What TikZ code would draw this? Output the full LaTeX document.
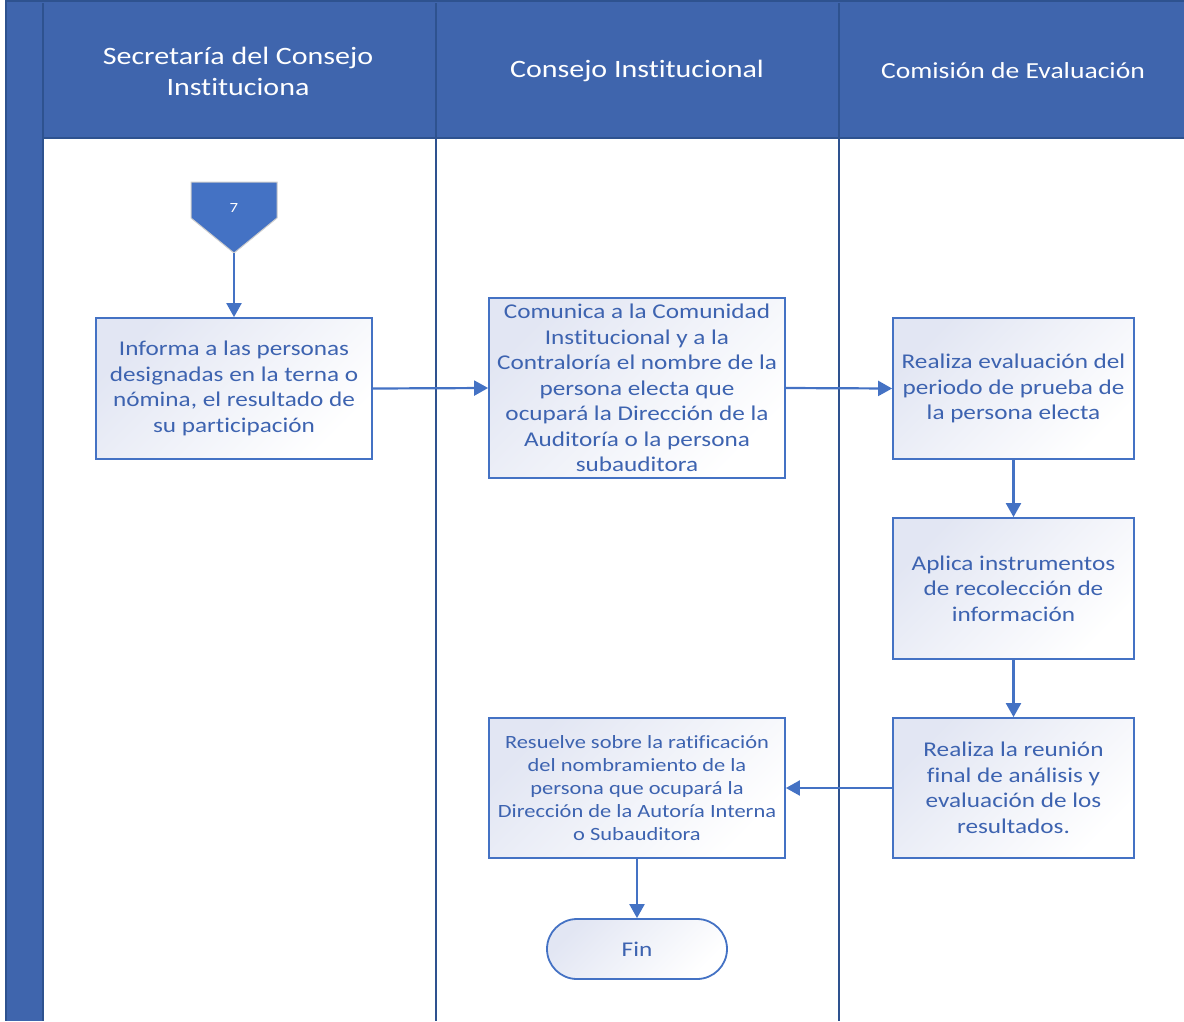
\documentclass[tikz,border=0pt]{standalone}
\usepackage{fontspec}
\setmainfont{Carlito}[FakeStretch=1.2,Ligatures=NoCommon]
\usetikzlibrary{arrows.meta,shapes.misc}
\definecolor{hdr}{HTML}{3F65AD}
\definecolor{hdrline}{HTML}{2E528F}
\definecolor{bx}{HTML}{4472C4}
\definecolor{txt}{HTML}{3D63B0}
\definecolor{grad}{HTML}{E2E6F3}
\definecolor{offp}{HTML}{4472C4}
\tikzset{
  proc/.style={draw=bx, line width=1.8pt, top color=grad, bottom color=white, shading angle=45,
    text=txt, align=center, inner sep=0pt, font=\fontsize{21}{25.5}\selectfont},
  procsmall/.style={proc, font=\fontsize{18.7}{23}\selectfont},
  flow/.style={draw=bx, line width=2.2pt, -{Triangle[width=15pt,length=14pt]}},
  lanehead/.style={text=white, align=center, font=\fontsize{25}{31}\selectfont},
  laneline/.style={draw=hdrline, line width=1.8pt},
}
\begin{document}
\begin{tikzpicture}[x=1pt,y=-1pt]
\useasboundingbox (0,0) rectangle (1184,1021);
% header band and left strip
\fill[hdr] (6,0) rectangle (1184,138);
\fill[hdr] (6,0) rectangle (43,1021);
\draw[hdrline, line width=2pt] (6,1) -- (1184,1);
\draw[hdrline, line width=1.2pt] (6,0) -- (6,1021);
\draw[laneline] (43,3) -- (43,1021);
\draw[laneline] (43,138) -- (1184,138);
\draw[laneline] (436,3) -- (436,1021);
\draw[laneline] (839,3) -- (839,1021);
% lane titles
\node[lanehead] (h1) at (238,71) {Secretaría del Consejo\\Instituciona};
\node[lanehead] (h2) at (637,71) {Consejo Institucional};
\node[lanehead, font=\fontsize{23}{28}\selectfont] (h3) at (1013,71) {Comisión de Evaluación};
% off-page connector
\filldraw[fill=offp, draw=gray!40, line width=1pt] (191,182) -- (277,182) -- (277,218) -- (234,253) -- (191,218) -- cycle;
\node[text=white, font=\fontsize{14}{16}\selectfont] (n7) at (234,208) {7};
\coordinate (c7) at (234,253);
% process boxes
\node[proc, minimum width=276pt, minimum height=141pt] (A) at (234,388.5)
  {Informa a las personas\\designadas en la terna o\\nómina, el resultado de\\su participación};
\node[proc, minimum width=296pt, minimum height=180pt] (B) at (637,388)
  {Comunica a la Comunidad\\Institucional y a la\\Contraloría el nombre de la\\persona electa que\\ocupará la Dirección de la\\Auditoría o la persona\\subauditora};
\node[proc, minimum width=241pt, minimum height=141pt] (C) at (1013.5,388.5)
  {Realiza evaluación del\\periodo de prueba de\\la persona electa};
\node[proc, minimum width=241pt, minimum height=141pt] (D) at (1013.5,588.5)
  {Aplica instrumentos\\de recolección de\\información};
\node[proc, minimum width=241pt, minimum height=140pt] (E) at (1013.5,788)
  {Realiza la reunión\\final de análisis y\\evaluación de los\\resultados.};
\node[procsmall, minimum width=296pt, minimum height=140pt] (F) at (637,788)
  {Resuelve sobre la ratificación\\del nombramiento de la\\persona que ocupará la\\Dirección de la Autoría Interna\\o Subauditora};
\node[proc, rounded rectangle, minimum width=180pt, minimum height=60pt] (fin) at (637,949) {Fin};
% connectors
\draw[flow] (c7) -- (A.north);
\draw[flow] (A.east) -- (B.west);
\draw[flow] (B.east) -- (C.west);
\draw[flow] (C.south) -- (D.north);
\draw[flow] (D.south) -- (E.north);
\draw[flow] (E.west) -- (F.east);
\draw[flow] (F.south) -- (fin.north);
\end{tikzpicture}
\end{document}
